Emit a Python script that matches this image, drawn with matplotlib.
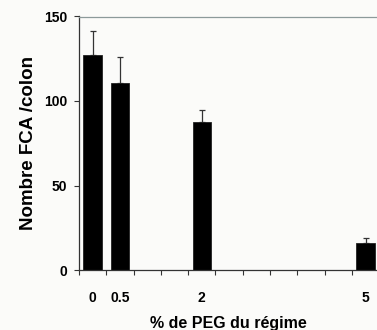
import numpy as np
import matplotlib
matplotlib.use("Agg")
import matplotlib.pyplot as plt

# data
peg = [0, 0.5, 2, 5]
peg_labels = ["0", "0.5", "2", "5"]
fca = [127, 110.5, 87.5, 16]
fca_err = [14.5, 15.5, 7, 3]

plt.rcParams['font.family'] = ['Liberation Sans', 'DejaVu Sans']
plt.rcParams['font.weight'] = 'bold'

bg = '#fbfbf9'
fig = plt.figure(figsize=(3.77, 3.30), dpi=100, facecolor=bg)
ax = fig.add_axes([79/377, 60/330, 1 - 79/377, (270 - 16.5)/330])
ax.set_facecolor(bg)

ax.bar(peg, fca, width=0.34, color='black', edgecolor='#222222', linewidth=0.6, zorder=2)
ax.errorbar(peg, fca, yerr=[np.zeros(len(fca_err)), fca_err], fmt='none',
            ecolor='#333333', elinewidth=0.9, capsize=2.2, capthick=0.9, zorder=1)

ax.set_xlim(-0.25, 5.21)
ax.set_ylim(0, 150)

ax.set_xticks(peg)
ax.set_xticklabels(peg_labels)
ax.set_xticks(np.arange(-0.25, 5.21, 0.5), minor=True)
ax.tick_params(axis='x', which='major', length=0, pad=15, labelsize=10)
ax.tick_params(axis='x', which='minor', length=3.6, width=0.8, direction='out', color='#333333')
ax.set_yticks([0, 50, 100, 150])
ax.tick_params(axis='y', length=3.6, width=0.8, direction='out', color='#333333', pad=5, labelsize=10)

for s in ['left', 'bottom']:
    ax.spines[s].set_color('#333333')
    ax.spines[s].set_linewidth(0.9)
ax.spines['top'].set_color('#8c9a9a')
ax.spines['top'].set_linewidth(0.9)
ax.spines['right'].set_visible(False)

ax.set_ylabel("Nombre FCA /colon", fontsize=13.5, fontweight='bold', labelpad=5)
ax.set_xlabel("% de PEG du régime", fontsize=11.5, fontweight='bold', labelpad=8)

fig.savefig("out.png", dpi=100, facecolor=bg)
